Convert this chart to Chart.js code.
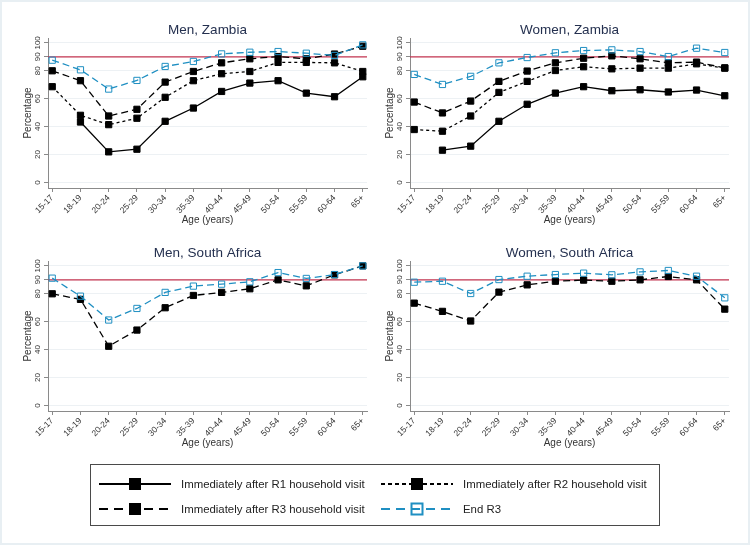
<!DOCTYPE html>
<html>
<head>
<meta charset="utf-8">
<script src="https://cdn.jsdelivr.net/npm/chart.js@4/dist/chart.umd.min.js"></script>
<style>
html,body{margin:0;padding:0;background:#fff;}
#wrap{position:relative;width:750px;height:545px;overflow:hidden;box-shadow:inset 0 0 0 2px #e8eff3;}
#wrap canvas{position:absolute;}
#legend{position:absolute;left:90px;top:464px;width:570px;height:62px;border:1.5px solid #4a4a4a;box-sizing:border-box;background:#fff;font-family:"Liberation Sans",Arial,sans-serif;font-size:11.4px;color:#222;}
.item{position:absolute;height:20px;display:flex;align-items:center;}
.item svg{display:block;}
.item span{position:absolute;white-space:nowrap;}
</style>
</head>
<body>
<div id="wrap">
  <canvas id="c1" width="375" height="240" style="left:0px;top:0px"></canvas>
  <canvas id="c2" width="375" height="240" style="left:362px;top:0px"></canvas>
  <canvas id="c3" width="375" height="240" style="left:0px;top:223px"></canvas>
  <canvas id="c4" width="375" height="240" style="left:362px;top:223px"></canvas>
  <div id="legend"></div>
</div>
<script>
// ---------- data ----------
const ageGroups = ['15-17','18-19','20-24','25-29','30-34','35-39','40-44','45-49','50-54','55-59','60-64','65+'];
const yTickValues = [0, 20, 40, 60, 80, 90, 100];
const targetLevel = 90;
const panelTitles = ['Men, Zambia', 'Women, Zambia', 'Men, South Africa', 'Women, South Africa'];
const seriesLabels = ['Immediately after R1 household visit', 'Immediately after R2 household visit', 'Immediately after R3 household visit', 'End R3'];

const menZambiaR1    = [null, 43.3, 21.9, 23.8, 43.8, 53.3, 65.2, 71.2, 72.9, 64.0, 61.4, 75.7];
const menZambiaR2    = [68.6, 48.1, 41.4, 46.0, 61.0, 72.9, 77.9, 79.5, 86.0, 86.0, 85.7, 79.5];
const menZambiaR3    = [80.0, 72.9, 47.6, 52.4, 71.9, 79.5, 85.7, 88.6, 90.2, 88.6, 92.0, 97.6];
const menZambiaEnd   = [87.6, 80.7, 66.9, 73.1, 83.1, 86.7, 92.1, 93.3, 93.8, 92.6, 91.0, 98.6];

const womenZambiaR1  = [null, 23.1, 26.0, 43.8, 56.0, 64.0, 68.6, 65.7, 66.4, 64.8, 66.2, 62.1];
const womenZambiaR2  = [37.9, 36.7, 47.6, 64.5, 72.4, 80.2, 82.9, 81.4, 81.9, 81.9, 85.0, 81.9];
const womenZambiaR3  = [57.6, 49.8, 58.3, 72.4, 79.8, 85.7, 89.0, 90.7, 88.6, 85.7, 86.2, 82.1];
const womenZambiaEnd = [77.4, 70.2, 76.0, 85.7, 89.5, 92.9, 94.5, 95.0, 93.8, 90.2, 96.2, 93.1];

const menSAR3        = [80.0, 76.0, 42.4, 54.0, 70.0, 78.8, 81.0, 83.6, 90.0, 85.7, 93.6, 100.0];
const menSAEnd       = [91.2, 78.3, 61.2, 69.5, 81.0, 85.5, 86.9, 88.6, 95.2, 91.0, 93.8, 100.0];

const womenSAR3      = [73.3, 67.4, 60.5, 81.2, 86.4, 89.0, 89.8, 89.0, 90.0, 92.4, 90.0, 69.0];
const womenSAEnd     = [88.3, 89.0, 80.2, 90.2, 92.6, 93.8, 94.8, 93.6, 95.7, 96.7, 92.6, 77.1];

// ---------- styles ----------
const FONT = '"Liberation Sans", Arial, sans-serif';
const BLUE = '#1f8fc2';
const styles = [
  {borderColor:'#000', borderDash:[], pointBackgroundColor:'#000', pointBorderColor:'#000', order:3},
  {borderColor:'#000', borderDash:[3,3], pointBackgroundColor:'#000', pointBorderColor:'#000', order:2},
  {borderColor:'#000', borderDash:[7,4], pointBackgroundColor:'#000', pointBorderColor:'#000', order:1},
  {borderColor:BLUE, borderDash:[7,4], pointBackgroundColor:'rgba(0,0,0,0)', pointBorderColor:BLUE, order:0}
];

function buildDataset(seriesIndex, values) {
  const s = styles[seriesIndex];
  return {
    label: seriesLabels[seriesIndex],
    data: values.map((v, i) => ({x: i, y: v})),
    borderColor: s.borderColor,
    borderDash: s.borderDash,
    borderWidth: 1.3,
    pointStyle: 'rect',
    pointRadius: 4.4,
    pointBorderWidth: 1,
    pointBackgroundColor: s.pointBackgroundColor,
    pointBorderColor: s.pointBorderColor,
    fill: false,
    tension: 0,
    spanGaps: false,
    order: s.order
  };
}

const panelPlugin = {
  id: 'panelPlugin',
  beforeDatasetsDraw(chart) {
    const {ctx, chartArea} = chart;
    const y = chart.scales.y.getPixelForValue(targetLevel);
    ctx.save();
    ctx.strokeStyle = '#c2334f';
    ctx.lineWidth = 1.2;
    ctx.beginPath();
    ctx.moveTo(chartArea.left, y);
    ctx.lineTo(chartArea.right, y);
    ctx.stroke();
    ctx.restore();
  },
  afterDraw(chart) {
    const {ctx, chartArea} = chart;
    const ys = chart.scales.y;
    ctx.save();
    ctx.fillStyle = '#333';
    ctx.font = '8px ' + FONT;
    ctx.textAlign = 'center';
    ctx.textBaseline = 'middle';
    ys.ticks.forEach(t => {
      const py = ys.getPixelForValue(t.value);
      ctx.save();
      ctx.translate(chartArea.left - 10.5, py);
      ctx.rotate(-Math.PI / 2);
      ctx.fillText(String(t.value), 0, 0);
      ctx.restore();
    });
    ctx.fillStyle = '#24304f';
    ctx.font = '13.5px ' + FONT;
    ctx.textBaseline = 'alphabetic';
    ctx.fillText(chart.options.plugins.panelPlugin.title, (chartArea.left + chartArea.right) / 2, 33.5);
    ctx.restore();
  }
};

function makeChart(id, title, datasets) {
  return new Chart(document.getElementById(id), {
    type: 'line',
    data: {datasets},
    plugins: [panelPlugin],
    options: {
      responsive: false,
      animation: false,
      devicePixelRatio: 1,
      layout: {padding: {left: 0, right: 8, top: 38, bottom: 14}},
      plugins: {legend: {display: false}, tooltip: {enabled: false}, panelPlugin: {title}},
      scales: {
        x: {
          type: 'linear', min: -0.15, max: 11.15,
          afterBuildTicks: s => { s.ticks = ageGroups.map((_, i) => ({value: i})); },
          afterFit: s => { s.height = 38; },
          ticks: {autoSkip: false, minRotation: 45, maxRotation: 45, padding: 1, color: '#333',
                  font: {size: 8.5, family: FONT}, callback: v => ageGroups[v]},
          grid: {drawOnChartArea: false, drawTicks: true, tickLength: 4, tickColor: '#8a8a8a', color: '#8a8a8a'},
          border: {color: '#8a8a8a', width: 1},
          title: {display: true, text: 'Age (years)', color: '#333', font: {size: 10, family: FONT}, padding: {top: 0, bottom: 0}}
        },
        y: {
          min: -4, max: 103.5,
          afterBuildTicks: s => { s.ticks = yTickValues.map(v => ({value: v})); },
          afterFit: s => { s.width = 48; },
          ticks: {display: false},
          grid: {drawOnChartArea: true, drawTicks: true, tickLength: 4, tickColor: '#8a8a8a',
                 color: c => (c.tick && c.tick.value === targetLevel) ? 'rgba(0,0,0,0)' : '#edf1f4', lineWidth: 1},
          border: {color: '#8a8a8a', width: 1},
          title: {display: true, text: 'Percentage', color: '#333', font: {size: 10, family: FONT}, padding: {top: 22, bottom: 0}}
        }
      }
    }
  });
}

makeChart('c1', panelTitles[0], [
  buildDataset(0, menZambiaR1), buildDataset(1, menZambiaR2), buildDataset(2, menZambiaR3), buildDataset(3, menZambiaEnd)
]);
makeChart('c2', panelTitles[1], [
  buildDataset(0, womenZambiaR1), buildDataset(1, womenZambiaR2), buildDataset(2, womenZambiaR3), buildDataset(3, womenZambiaEnd)
]);
makeChart('c3', panelTitles[2], [buildDataset(2, menSAR3), buildDataset(3, menSAEnd)]);
makeChart('c4', panelTitles[3], [buildDataset(2, womenSAR3), buildDataset(3, womenSAEnd)]);

// ---------- legend ----------
const legendPos = [
  {left: 8, top: 9}, {left: 290, top: 9}, {left: 8, top: 34}, {left: 290, top: 34}
];
const legendDash = ['', '4 3', '9 6', '9 6'];
const legendEl = document.getElementById('legend');
seriesLabels.forEach((label, i) => {
  const s = styles[i];
  const p = legendPos[i];
  const div = document.createElement('div');
  div.className = 'item';
  div.style.left = p.left + 'px';
  div.style.top = p.top + 'px';
  const fill = i === 3 ? 'none' : '#000';
  const sw = i === 3 ? 2 : 1;
  div.innerHTML =
    '<svg width="72" height="20"><line x1="0" y1="10" x2="72" y2="10" stroke="' + s.borderColor + '" stroke-width="2.2"' +
    (legendDash[i] ? ' stroke-dasharray="' + legendDash[i] + '"' : '') + '/>' +
    '<rect x="30.5" y="4.5" width="11" height="11" fill="' + fill + '" stroke="' + s.pointBorderColor + '" stroke-width="' + sw + '"/></svg>' +
    '<span style="left:82px">' + label + '</span>';
  legendEl.appendChild(div);
});
</script>
</body>
</html>
